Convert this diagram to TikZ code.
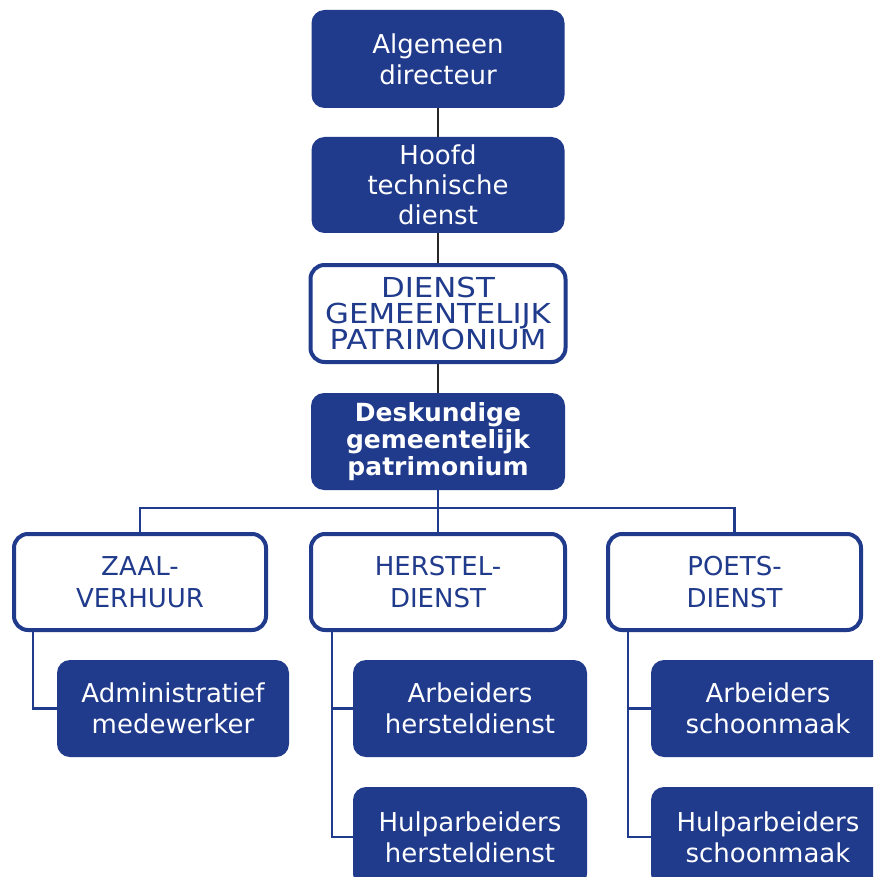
\documentclass[tikz,border=0pt]{standalone}
\usepackage{fontspec}
\setmainfont{DejaVu Sans}
\newfontfamily\widefont[FakeStretch=1.12]{DejaVu Sans}
\definecolor{navy}{RGB}{32,58,140}
\begin{document}
\begin{tikzpicture}[x=1pt,y=-1pt,
  dbox/.style={rectangle, rounded corners=13pt, fill=navy, text=white, align=center, inner sep=0pt,
    font=\fontsize{26}{31}\selectfont},
  wbox/.style={rectangle, rounded corners=14pt, draw=navy, line width=4pt, fill=white, text=navy,
    align=center, inner sep=0pt, font=\fontsize{26}{32}\selectfont},
  bl/.style={draw=navy, line width=2.3pt},
  bk/.style={draw=black!85, line width=2.2pt}]
\useasboundingbox (0,0) rectangle (873,877);
\clip (0,0) rectangle (873,877);
\fill[white] (0,0) rectangle (873,877);

% top chain
\node[dbox, minimum width=253pt, minimum height=98pt] (A) at (438,59) {Algemeen\\directeur};
\node[dbox, minimum width=253pt, minimum height=96pt, font=\fontsize{26}{30}\selectfont] (H) at (438,185) {Hoofd\\technische\\dienst};
\node[wbox, minimum width=255pt, minimum height=97pt, font=\widefont\fontsize{27.5}{26}\selectfont] (D) at (438,313.5) {DIENST\\GEMEENTELIJK\\PATRIMONIUM};
\node[dbox, minimum width=254pt, minimum height=97pt, font=\fontsize{25}{27}\selectfont\bfseries] (K) at (438,441.5) {Deskundige\\gemeentelijk\\patrimonium};

% departments
\node[wbox, minimum width=252pt, minimum height=96pt] (Z) at (140,582) {ZAAL-\\VERHUUR};
\node[wbox, minimum width=254pt, minimum height=96pt] (HD) at (438,582) {HERSTEL-\\DIENST};
\node[wbox, minimum width=253pt, minimum height=96pt] (P) at (734.5,582) {POETS-\\DIENST};

% staff
\node[dbox, minimum width=232pt, minimum height=97pt] (AM) at (173,708.5) {Administratief\\medewerker};
\node[dbox, minimum width=234pt, minimum height=97pt] (AH) at (470,708.5) {Arbeiders\\hersteldienst};
\node[dbox, minimum width=234pt, minimum height=100pt] (HH) at (470,837) {Hulparbeiders\\hersteldienst};
\node[dbox, minimum width=234pt, minimum height=97pt] (AS) at (768,708.5) {Arbeiders\\schoonmaak};
\node[dbox, minimum width=234pt, minimum height=100pt] (HS) at (768,837) {Hulparbeiders\\schoonmaak};

% connectors
\draw[bk] (A.south) -- (H.north);
\draw[bk] (H.south) -- (D.north);
\draw[bk] (D.south) -- (K.north);

\coordinate (bus) at (0,508);
\draw[bl] (K.south) -- (HD.north);
\draw[bl] (Z.north) -- (Z.north |- bus) -- (P.north |- bus) -- (P.north);

\coordinate (zx) at (33,0);
\coordinate (hx) at (332,0);
\coordinate (px) at (628,0);
\draw[bl] (AM.west) -| (zx |- Z.south);
\draw[bl] (HH.west) -| (hx |- HD.south);
\draw[bl] (AH.west) -- (hx |- AH.west);
\draw[bl] (HS.west) -| (px |- P.south);
\draw[bl] (AS.west) -- (px |- AS.west);
\end{tikzpicture}
\end{document}
